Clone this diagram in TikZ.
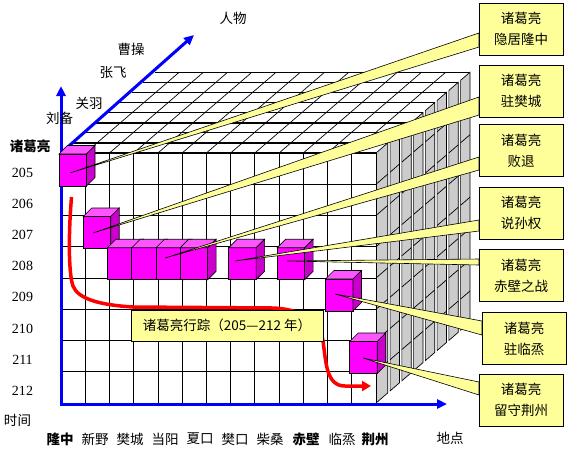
\documentclass[tikz,border=0pt]{standalone}
\usepackage{fontspec}
\setmainfont{Liberation Serif}
\newfontfamily\cjk{Noto Sans CJK SC}
\usetikzlibrary{arrows.meta}
\definecolor{callfill}{HTML}{FFFF99}
\definecolor{sidegray}{HTML}{CCCCCC}
\definecolor{magfront}{HTML}{FF00FF}
\definecolor{magtop}{HTML}{FF55FF}
\definecolor{magside}{HTML}{CC00CC}
\definecolor{axisblue}{HTML}{0000FF}
\pgfdeclarelayer{toplayer}
\pgfsetlayers{main,toplayer}
\newcommand\MagCube[2]{%
  \filldraw[fill=magfront, draw=black, line width=0.6pt] (#1,#2) rectangle ++(27.5,32);
  \filldraw[fill=magtop, draw=black, line width=0.6pt] (#1,#2) -- ++(8.5,-8.5) -- ++(27.5,0) -- ++(-8.5,8.5) -- cycle;
  \filldraw[fill=magside, draw=black, line width=0.6pt] ({#1+27.5},#2) -- ++(8.5,-8.5) -- ++(0,32) -- ++(-8.5,8.5) -- cycle;
}
\begin{document}
\begin{tikzpicture}[x=1pt,y=-1pt,
  gridline/.style={black, line width=0.7pt},
  thickline/.style={black, line width=1.7pt},
  axisline/.style={axisblue, line width=3pt, -{Triangle[length=10pt,width=9pt]}},
  callout/.style={draw=black, line width=0.6pt, fill=callfill, minimum width=84pt, minimum height=52pt, inner sep=0pt, outer sep=0pt, align=center, font=\cjk\fontsize{13.5}{21}\selectfont},
  wedge/.style={fill=callfill, draw=black, line width=0.6pt},
  lbl/.style={font=\cjk\fontsize{13.5}{16}\selectfont, inner sep=0pt},
  yr/.style={font=\fontsize{14}{16}\selectfont, inner sep=0pt},
  trail/.style={red, line width=3.5pt, -{Triangle[length=9pt,width=10pt]}},
]
\useasboundingbox (0,0) rectangle (569,456);
\fill[white] (0,0) rectangle (569,456);
\def\Xo{61} \def\Yo{153} \def\Wc{24.23} \def\Hc{31.25} \def\DX{11.75} \def\DY{-10.1}
\def\Xr{376} \def\Yb{403}

% top face
\fill[white] (\Xo,\Yo) -- (\Xr,\Yo) -- ({\Xr+8*\DX},{\Yo+8*\DY}) -- ({\Xo+8*\DX},{\Yo+8*\DY}) -- cycle;
\foreach \k in {1,...,8} \draw[gridline] ({\Xo+\k*\DX},{\Yo+\k*\DY}) -- ({\Xr+\k*\DX},{\Yo+\k*\DY});
\foreach \i in {1,...,12} \draw[gridline] ({\Xo+\i*\Wc},\Yo) -- ++({8*\DX},{8*\DY});

% grey right side, one panel per slab
\foreach \k in {0,...,7} {
  \pgfmathsetmacro\sa{\k==0 ? 0 : \k+0.2}
  \pgfmathsetmacro\sb{\k+1}
  \filldraw[fill=sidegray, draw=black, line width=0.7pt] ({\Xr+\sa*\DX},{\Yo+\sa*\DY}) -- ({\Xr+\sb*\DX},{\Yo+\sb*\DY}) -- ({\Xr+\sb*\DX},{\Yb+\sb*\DY}) -- ({\Xr+\sa*\DX},{\Yb+\sa*\DY}) -- cycle;
  \foreach \r in {1,...,7} \draw[gridline] ({\Xr+\sa*\DX},{\Yo+\r*\Hc+\sa*\DY}) -- ({\Xr+\sb*\DX},{\Yo+\r*\Hc+\sb*\DY});
}

% front face
\fill[white] (\Xo,\Yo) rectangle (\Xr,\Yb);
\foreach \i in {0,...,13} \draw[gridline] ({\Xo+\i*\Wc},\Yo) -- ({\Xo+\i*\Wc},\Yb);
\foreach \r in {1,...,8} \draw[gridline] (\Xo,{\Yo+\r*\Hc}) -- (\Xr,{\Yo+\r*\Hc});
\foreach \k in {0,1,3,5} \draw[thickline] ({\Xo+\k*\DX},{\Yo+\k*\DY}) -- ({\Xr+\k*\DX},{\Yo+\k*\DY});

% axes
\coordinate (org) at (61,404);
\coordinate (corner) at (61,153);
\coordinate (ytip) at (61,86);
\coordinate (xtip) at (447,404);
\coordinate (ztip) at (194,35);
\draw[axisline] ([yshift=-1.5pt]org) -- (ytip);
\draw[axisline] ([xshift=-1.5pt]org) -- (xtip);
\draw[axisline] (corner) -- (ztip);

% cubes
\MagCube{59}{154}
\MagCube{83.23}{216.5}
\MagCube{107.46}{247.75}
\MagCube{131.69}{247.75}
\MagCube{155.92}{247.75}
\MagCube{180.15}{247.75}
\MagCube{228.61}{247.75}
\MagCube{277.07}{247.75}
\MagCube{325.53}{279}
\MagCube{349.76}{341.5}

% callout boxes and label box (on top layer)
\begin{pgfonlayer}{toplayer}
\node[callout] (b1) at (521,29) {诸葛亮\\隐居隆中};
\node[callout] (b2) at (521,91) {诸葛亮\\驻樊城};
\node[callout] (b3) at (521,150.5) {诸葛亮\\败退};
\node[callout] (b4) at (521,213) {诸葛亮\\说孙权};
\node[callout] (b5) at (521,275.5) {诸葛亮\\赤壁之战};
\node[callout] (b6) at (524,338.5) {诸葛亮\\驻临烝};
\node[callout] (b7) at (521,400) {诸葛亮\\留守荆州};
\node[callout, minimum width=192pt, minimum height=31pt] (lb) at (227,325.5) {诸葛亮行踪（205—212 年）};
\end{pgfonlayer}

% wedge tips
\coordinate (t1) at (70,173);
\coordinate (t2) at (93,233);
\coordinate (t3) at (165,258);
\coordinate (t4) at (235,261);
\coordinate (t5) at (287,261);
\coordinate (t6) at (335,294);
\coordinate (t7) at (363,358);
\filldraw[wedge] (t1) -- ([yshift=-4pt]b1.west) -- ([yshift=-18pt]b1.west) -- cycle;
\filldraw[wedge] (t2) -- ([yshift=-6pt]b2.west) -- ([yshift=-24pt]b2.west) -- cycle;
\filldraw[wedge] (t3) -- ([yshift=-6.5pt]b3.west) -- ([yshift=-19.5pt]b3.west) -- cycle;
\filldraw[wedge] (t4) -- ([yshift=-7pt]b4.west) -- ([yshift=-18pt]b4.west) -- cycle;
\filldraw[wedge] (t5) -- ([yshift=16.5pt]b5.west) -- ([yshift=10.5pt]b5.west) -- cycle;
\filldraw[wedge] (t6) -- ([yshift=17.5pt]b6.west) -- ([yshift=3.5pt]b6.west) -- cycle;
\filldraw[wedge] (t7) -- ([yshift=18pt]b7.west) -- ([yshift=5pt]b7.west) -- cycle;

% red trail
\coordinate (rs) at (71.5,197);
\coordinate (re) at (371,386);
\draw[trail] (rs) .. controls (68,240) and (69,275) .. (73,286) .. controls (78,299) and (100,305) .. (133,307) -- (273,308) .. controls (300,309) and (320,320) .. (323,341) .. controls (326,362) and (326,386) .. (345,386) -- (re);

% axis labels
\node[lbl] (l0) at (233,18) {人物};
\node[lbl] (l1) at (131,49) {曹操};
\node[lbl] (l2) at (113,73) {张飞};
\node[lbl] (l3) at (89,103) {关羽};
\node[lbl] (l4) at (59.5,118) {刘备};
\node[lbl] (l5) at (30,146) {\bfseries 诸葛亮};
\node[lbl] (tm) at (17.5,420) {时间};
\node[lbl] (dd) at (450,438) {地点};
\foreach \y [count=\n from 0] in {205,...,212}
  \node[yr] (y\y) at (22.5,{172.5+31.2*\n}) {\y};
\node[lbl] (p1) at (60,439) {\bfseries 隆中};
\node[lbl] (p2) at (95,439) {新野};
\node[lbl] (p3) at (130,439) {樊城};
\node[lbl] (p4) at (165,439) {当阳};
\node[lbl] (p5) at (200,439) {夏口};
\node[lbl] (p6) at (235,439) {樊口};
\node[lbl] (p7) at (270,439) {柴桑};
\node[lbl] (p8) at (306,439) {\bfseries 赤壁};
\node[lbl] (p9) at (342,439) {临烝};
\node[lbl] (p10) at (375,439) {\bfseries 荆州};
\end{tikzpicture}
\end{document}
